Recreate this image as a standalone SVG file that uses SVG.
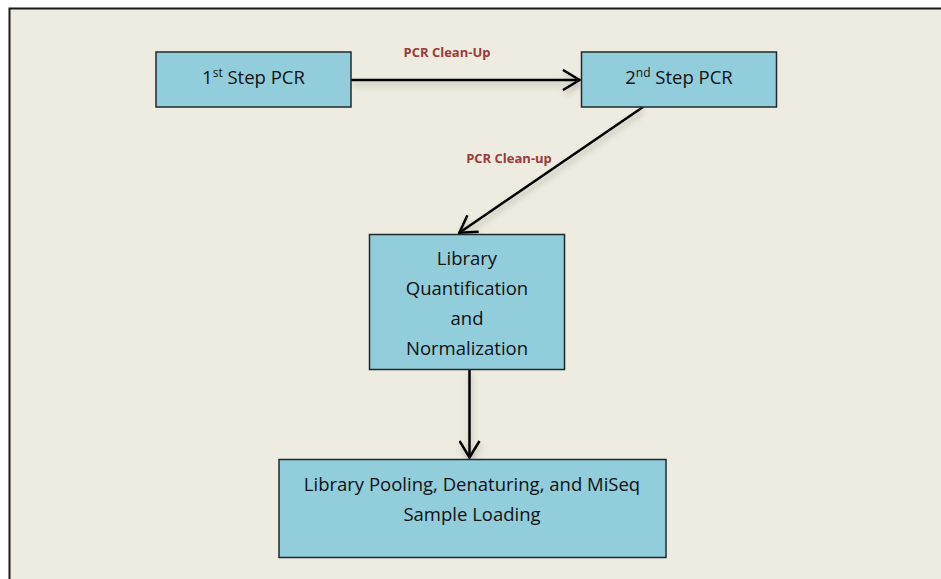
<svg xmlns="http://www.w3.org/2000/svg" width="941" height="579" viewBox="0 0 941 579">
  <style>
    .node rect { fill: #92cddc; stroke: #1f2a2e; stroke-width: 1.5; }
    .node text { font-family: "Open Sans", "Liberation Sans", sans-serif; font-size: 18.5px; fill: #111; text-anchor: middle; font-variant-ligatures: none; }
    .sup { font-size: 12px; }
    .edge { stroke: #000; stroke-width: 2.5; fill: none; marker-end: url(#chev); filter: url(#soft); }
    .elabel { font-family: "Open Sans", "Liberation Sans", sans-serif; font-size: 13px; font-weight: bold; fill: #9b3a3a; text-anchor: middle; }
  </style>
  <defs>
    <marker id="chev" viewBox="0 0 20 22" refX="18.5" refY="11" markerWidth="20" markerHeight="22" markerUnits="userSpaceOnUse" orient="auto">
      <path d="M1.5,1 L18,11 L1.5,21" fill="none" stroke="#000" stroke-width="2.5"/>
    </marker>
    <filter id="soft" filterUnits="userSpaceOnUse" x="0" y="0" width="941" height="579">
      <feGaussianBlur in="SourceAlpha" stdDeviation="3"/>
      <feOffset dx="1" dy="4" result="b"/>
      <feComponentTransfer><feFuncA type="linear" slope="0.25"/></feComponentTransfer>
      <feMerge><feMergeNode/><feMergeNode in="SourceGraphic"/></feMerge>
    </filter>
  </defs>

  <!-- page -->
  <rect x="0" y="0" width="941" height="579" fill="#ffffff"/>
  <rect x="9.5" y="8.5" width="940" height="580" fill="#eeebe0" stroke="#1a1a1a" stroke-width="2"/>

  <!-- connectors -->
  <g id="connectors">
    <line class="edge" x1="351" y1="80" x2="580" y2="80"/>
    <text class="elabel" x="447" y="57">PCR Clean-Up</text>
    <line class="edge" x1="643" y1="107" x2="459" y2="233"/>
    <text class="elabel" x="509" y="163">PCR Clean-up</text>
    <line class="edge" x1="469.5" y1="369" x2="469.5" y2="458"/>
  </g>

  <g id="step1" class="node">
    <rect x="156" y="52" width="195" height="55"/>
    <text x="253.5" y="84">1<tspan class="sup" dy="-7">st</tspan><tspan dy="7"> Step PCR</tspan></text>
  </g>

  <g id="step2" class="node">
    <rect x="581.5" y="52" width="195" height="55"/>
    <text x="679" y="84">2<tspan class="sup" dy="-7">nd</tspan><tspan dy="7"> Step PCR</tspan></text>
  </g>

  <g id="quant" class="node">
    <rect x="369.5" y="234.5" width="195" height="135"/>
    <text x="467" y="265">Library</text>
    <text x="467" y="295">Quantification</text>
    <text x="467" y="325">and</text>
    <text x="467" y="355">Normalization</text>
  </g>

  <g id="loading" class="node">
    <rect x="279" y="459.5" width="387" height="98"/>
    <text x="472" y="491">Library Pooling, Denaturing, and MiSeq</text>
    <text x="472" y="521">Sample Loading</text>
  </g>
</svg>
